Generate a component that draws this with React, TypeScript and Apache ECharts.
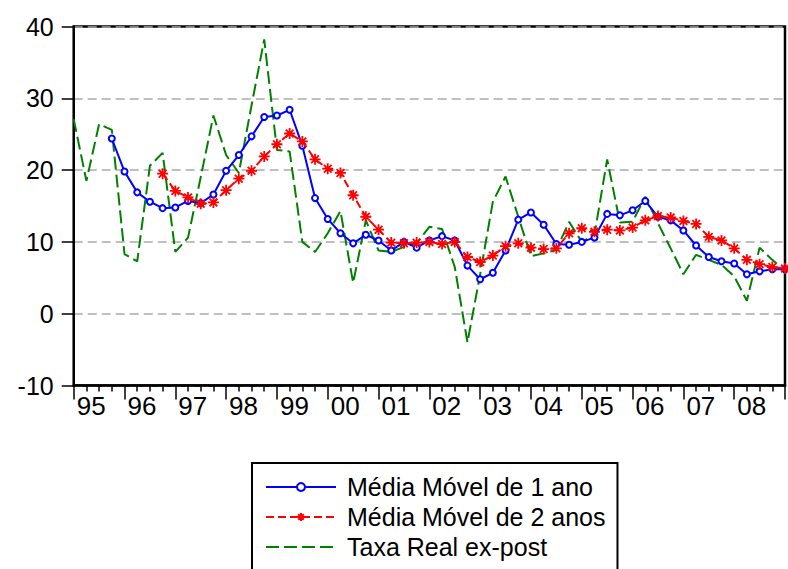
import React, { useEffect, useRef } from 'react';
import * as echarts from 'echarts';

// Year tick labels (one per year, first quarter)
const yearLabels = ['95', '96', '97', '98', '99', '00', '01', '02', '03', '04', '05', '06', '07', '08'];

// Quarterly categories 1995Q1 .. 2009Q1 (last one lies just past the cropped right edge)
const quarterLabels: string[] = [];
for (let y = 1995; y <= 2009; y++) {
  for (let q = 1; q <= 4; q++) {
    if (y === 2009 && q > 1) break;
    quarterLabels.push(`${y}Q${q}`);
  }
}

const seriesNames = ['Média Móvel de 1 ano', 'Média Móvel de 2 anos', 'Taxa Real ex-post'];

const mediaMovel1 = [
  null, null, null, 24.4, 19.8, 16.9, 15.6, 14.7, 14.8, 15.7, 15.4, 16.6, 19.9, 22.1, 24.7, 27.4,
  27.6, 28.4, 23.4, 16.1, 13.2, 11.2, 9.8, 11.0, 10.2, 8.8, 10.0, 9.2, 10.2, 10.8, 10.2, 6.7,
  4.8, 5.7, 8.8, 13.1, 14.1, 12.4, 9.7, 9.6, 10.0, 10.6, 13.9, 13.7, 14.4, 15.7, 13.5, 13.0,
  11.6, 9.5, 7.9, 7.3, 7.0, 5.5, 5.9, 6.2, 6.2,
];

const mediaMovel2 = [
  null, null, null, null, null, null, null, 19.5, 17.1, 16.2, 15.3, 15.5, 17.2, 18.8, 19.9, 21.9,
  23.6, 25.1, 24.0, 21.5, 20.2, 19.6, 16.5, 13.5, 11.7, 9.9, 9.8, 9.9, 10.0, 9.7, 10.0, 7.9,
  7.2, 8.1, 9.4, 9.8, 9.2, 9.0, 9.1, 11.2, 11.9, 11.4, 11.7, 11.6, 12.0, 13.0, 13.6, 13.4,
  12.9, 12.5, 10.7, 10.2, 9.1, 7.5, 6.9, 6.5, 6.3,
];

const taxaReal = [
  27.1, 18.5, 26.4, 25.6, 8.3, 7.3, 20.6, 22.4, 8.6, 10.6, 19.0, 27.6, 22.1, 19.6, 29.0, 38.2,
  22.8, 22.6, 10.0, 8.6, 11.2, 14.3, 4.3, 13.0, 8.8, 8.6, 9.3, 9.8, 12.1, 11.8, 6.5, -4.0,
  5.5, 15.6, 19.1, 13.5, 8.0, 8.4, 8.9, 12.8, 10.0, 11.0, 21.5, 12.7, 12.8, 16.3, 12.6, 9.1,
  5.5, 8.2, 7.5, 6.8, 5.2, 1.8, 9.2, 7.5, 6.0,
];

const FONT = "'Liberation Sans', Arial, Helvetica, sans-serif";
const ASTERISK = 'path://M5,0L5,10M0,5L10,5M1.5,1.5L8.5,8.5M1.5,8.5L8.5,1.5';

function toPairs(arr: (number | null)[]) {
  const out: [number, number][] = [];
  arr.forEach((v, i) => {
    if (v !== null && v !== undefined) out.push([i, v]);
  });
  return out;
}

export default function App() {
  const ref = useRef<HTMLDivElement>(null);

  useEffect(() => {
    if (!ref.current) return;
    const chart = echarts.init(ref.current, undefined, { renderer: 'svg' });
    const option: any = {
      animation: false,
      backgroundColor: '#ffffff',
      textStyle: { fontFamily: FONT },
      grid: {
        left: 73.7,
        top: 26.5,
        right: -5.3,
        bottom: 183.5,
        show: true,
        borderColor: '#000',
        borderWidth: 2.5,
        backgroundColor: 'transparent',
      },
      xAxis: {
        type: 'value',
        min: 0,
        max: quarterLabels.length - 1,
        interval: 4,
        axisLine: { show: true, onZero: false, lineStyle: { color: '#000', width: 2.5 } },
        axisTick: { show: true, length: 14, lineStyle: { color: '#000', width: 1.5 } },
        minorTick: { show: true, splitNumber: 4, length: 6, lineStyle: { color: '#000', width: 1.5 } },
        splitLine: { show: false },
        axisLabel: {
          formatter: (v: number) => yearLabels[Math.round(v / 4)] ?? '',
          align: 'left',
          padding: [0, 0, 0, 3],
          margin: 7,
          fontSize: 26,
          color: '#000',
          fontFamily: FONT,
          showMinLabel: true,
          showMaxLabel: true,
        },
      },
      yAxis: {
        type: 'value',
        min: -10,
        max: 40,
        interval: 10,
        axisLine: { show: true, lineStyle: { color: '#000', width: 2 } },
        axisTick: { show: true, length: 12, lineStyle: { color: '#000', width: 1.5 } },
        splitLine: { show: true, lineStyle: { color: '#aaaaaa', type: [9, 5], width: 1.5 } },
        axisLabel: { fontSize: 25, color: '#000', fontFamily: FONT, margin: 20 },
      },
      legend: {
        orient: 'vertical',
        left: 252,
        top: 463,
        height: 200,
        data: [
          { name: seriesNames[0] },
          { name: seriesNames[1] },
          { name: seriesNames[2], itemStyle: { opacity: 0 } },
        ],
        itemWidth: 70,
        itemHeight: 10,
        itemGap: 0,
        padding: [9, 12, 30, 13],
        borderColor: '#000',
        borderWidth: 2,
        backgroundColor: '#fff',
        textStyle: { fontSize: 25, fontFamily: FONT, color: '#000', lineHeight: 30, padding: [0, 0, 0, 6] },
      },
      series: [
        {
          name: seriesNames[0],
          type: 'line',
          data: toPairs(mediaMovel1),
          symbol: 'emptyCircle',
          symbolSize: 6,
          showAllSymbol: true,
          lineStyle: { color: '#0000ff', width: 2 },
          itemStyle: { color: '#0000ff', borderColor: '#0000ff', borderWidth: 1.5 },
          z: 3,
        },
        {
          name: seriesNames[1],
          type: 'line',
          data: toPairs(mediaMovel2),
          symbol: ASTERISK,
          symbolSize: 11,
          showAllSymbol: true,
          lineStyle: { color: '#ff0000', width: 2, type: [8, 4] },
          itemStyle: { color: '#ff0000', borderColor: '#ff0000', borderWidth: 1.8 },
          z: 4,
        },
        {
          name: seriesNames[2],
          type: 'line',
          data: toPairs(taxaReal),
          symbol: 'none',
          showSymbol: false,
          lineStyle: { color: '#008000', width: 2, type: [13, 5] },
          itemStyle: { color: '#008000' },
          z: 2,
        },
      ],
    };
    chart.setOption(option);
    return () => chart.dispose();
  }, []);

  return (
    <div
      ref={ref}
      style={{ position: 'fixed', left: 0, top: 0, width: 788, height: 569, background: '#fff' }}
    />
  );
}
